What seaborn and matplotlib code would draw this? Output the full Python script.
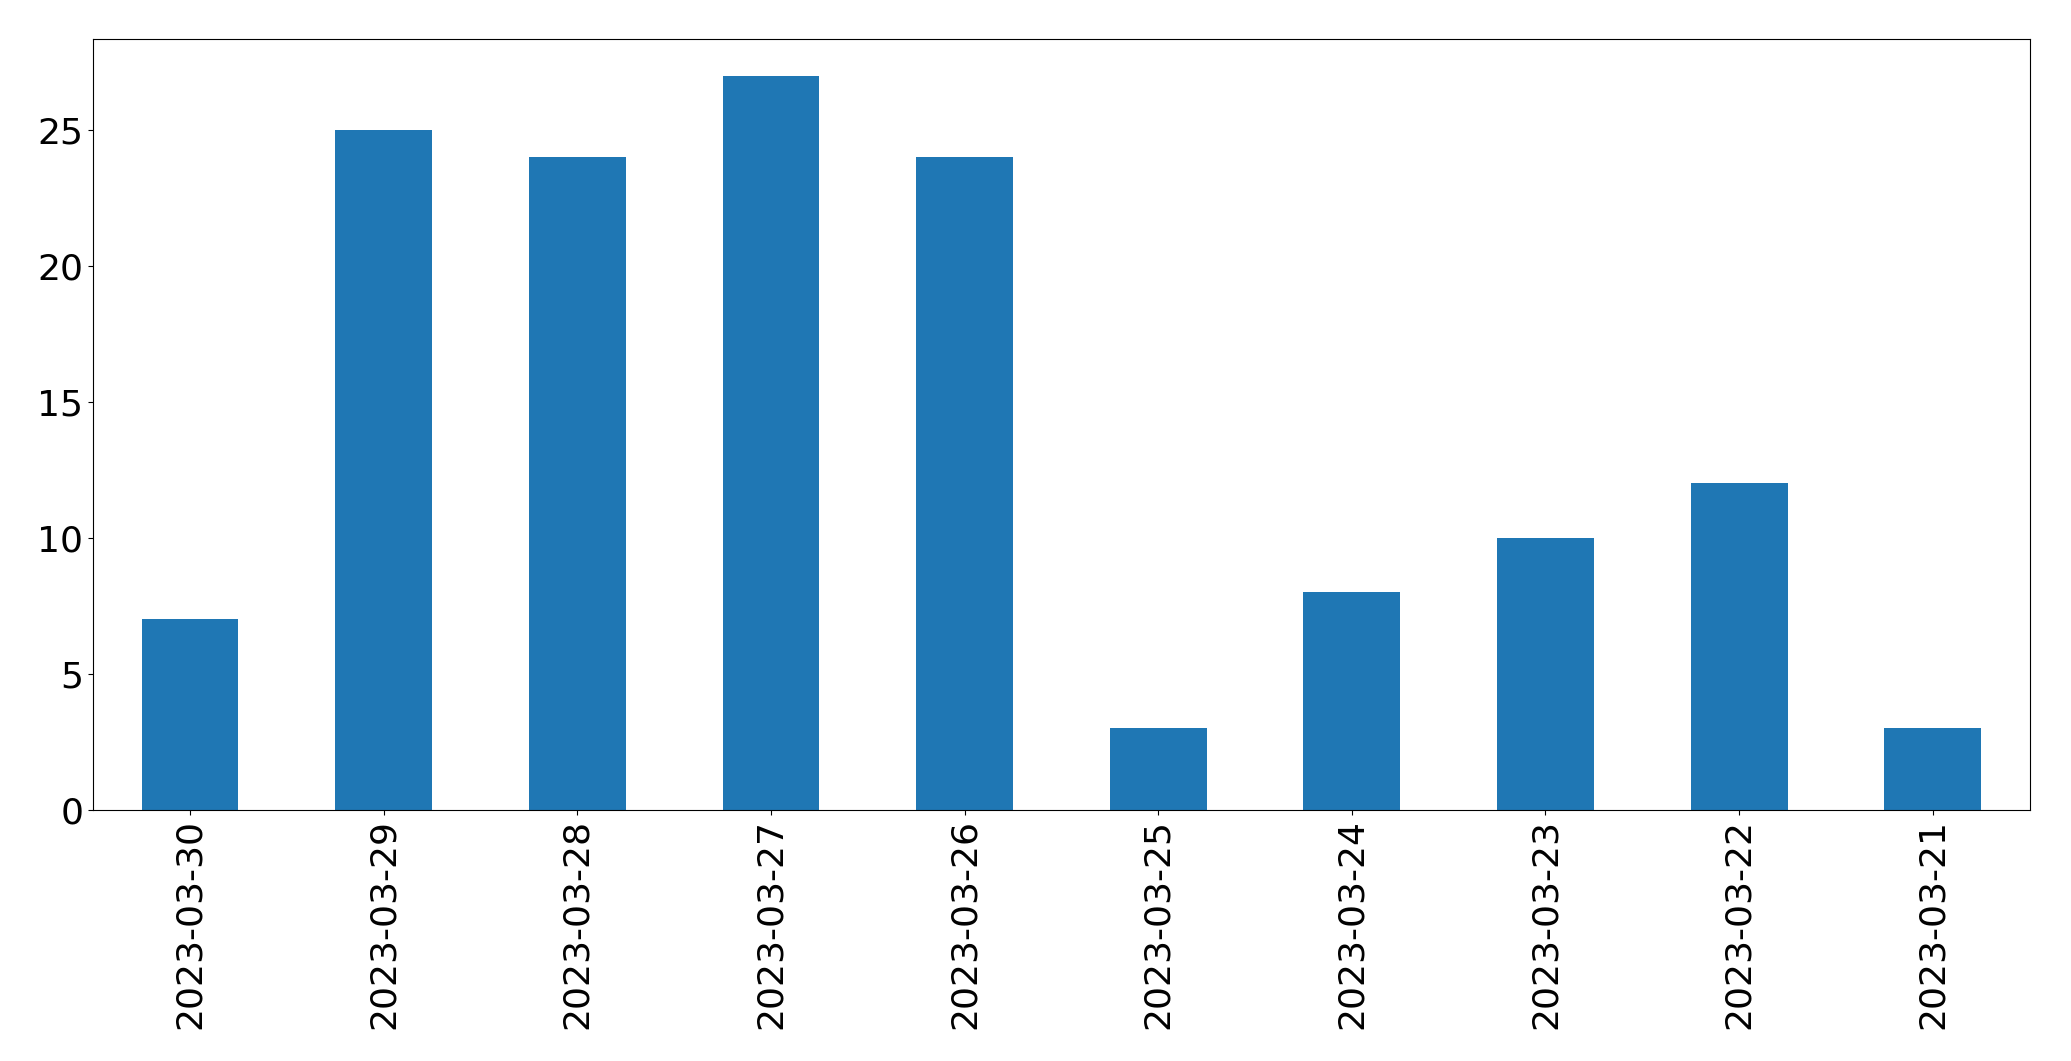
import matplotlib
matplotlib.use("Agg")
import matplotlib.pyplot as plt
import seaborn as sns
import pandas as pd

dates = ["2023-03-30", "2023-03-29", "2023-03-28", "2023-03-27", "2023-03-26",
         "2023-03-25", "2023-03-24", "2023-03-23", "2023-03-22", "2023-03-21"]
counts = [7, 25, 24, 27, 24, 3, 8, 10, 12, 3]

df = pd.DataFrame({"date": dates, "count": counts})

fig, ax = plt.subplots(figsize=(20.71, 10.61), dpi=100)
sns.barplot(data=df, x="date", y="count", order=dates, color="#1f77b4",
            saturation=1, width=0.5, ax=ax)
ax.set_xlabel("")
ax.set_ylabel("")
ax.tick_params(axis="x", labelrotation=90, labelsize=26)
ax.tick_params(axis="y", labelsize=26)
ax.set_xlim(-0.5, len(dates) - 0.5)
fig.subplots_adjust(left=0.045, right=0.98, top=0.963, bottom=0.237)
fig.savefig("out.png", dpi=100)
